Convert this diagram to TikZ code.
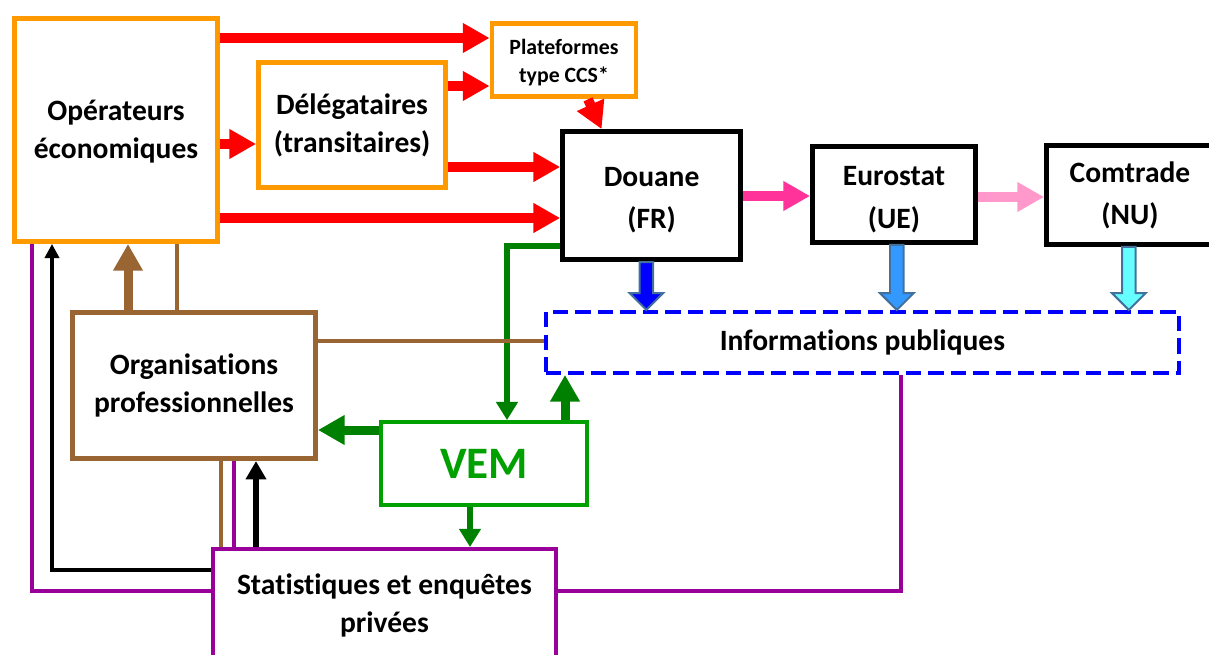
\documentclass[tikz,border=0pt]{standalone}
\usepackage{fontspec}
\setmainfont[Ligatures=NoCommon]{Carlito}
\usetikzlibrary{arrows.meta,positioning,calc}
\definecolor{orangebox}{RGB}{255,153,0}
\definecolor{rosevif}{RGB}{255,51,153}
\definecolor{rosepale}{RGB}{255,153,204}
\definecolor{brun}{RGB}{153,102,51}
\definecolor{violet}{RGB}{153,0,153}
\definecolor{vertfl}{RGB}{0,128,0}
\definecolor{vertvem}{RGB}{0,160,0}
\definecolor{bleueur}{RGB}{51,153,255}
\definecolor{cyancom}{RGB}{102,255,255}
\definecolor{bordbleu}{RGB}{65,113,156}

\begin{document}
\begin{tikzpicture}[
                font=\fontsize{21}{27}\selectfont\bfseries,
                box/.style={draw, line width=3.5pt, fill=white, inner sep=0pt, align=center},
                redarr/.style={draw=red, line width=7pt, -{Triangle[length=19pt, width=20pt]}},
                grnbig/.style={draw=vertfl, line width=6.4pt, -{Triangle[length=19pt, width=20pt]}},
                grnarr/.style={draw=vertfl, line width=4.3pt, -{Triangle[length=13pt, width=15pt]}},
                brnbig/.style={draw=brun, line width=6.4pt, -{Triangle[length=19pt, width=20pt]}},
                brnline/.style={draw=brun, line width=2.3pt},
                purline/.style={draw=violet, line width=2.3pt},
                noirfin/.style={draw=black, line width=2.8pt, -{Triangle[length=10pt, width=10pt]}},
                noirarr/.style={draw=black, line width=4.3pt, -{Triangle[length=13pt, width=14pt]}},
                pubarr/.style={draw=bordbleu, line width=1.4pt, line join=miter},
            ]
            \useasboundingbox (0,0) rectangle (30.225,-16.375);
            % --- acteurs et organismes ---
            \node[box, draw=orangebox, minimum width=5.075cm, minimum height=5.575cm] (ope) at (2.9, -3.25) {\rule{0pt}{17pt}Opérateurs\\économiques};
            \node[box, draw=orangebox, minimum width=4.675cm, minimum height=3.125cm] (del) at (8.8, -3.125) {Délégataires\\(transitaires)};
            \node[box, draw=orangebox, minimum width=3.6cm, minimum height=1.825cm, font=\fontsize{15.5}{20}\selectfont\bfseries] (pla) at (14.1, -1.51) {\rule{0pt}{14pt}Plateformes\\type CCS*};
            \node[box, minimum width=4.45cm, minimum height=3.2cm] (dou) at (16.29, -4.89) {\rule{0pt}{20pt}Douane\\[3pt](FR)};
            \node[box, minimum width=4.075cm, minimum height=2.4cm] (eur) at (22.35, -4.86) {\rule{0pt}{21pt}Eurostat\\[3pt](UE)};
            \node[box, minimum width=4.175cm, minimum height=2.475cm] (com) at (28.25, -4.875) {Comtrade\\[3pt](NU)};
            \node[box, draw=blue, line width=2.8pt, dash pattern=on 11pt off 5pt, minimum width=15.825cm, minimum height=1.525cm] (info) at (21.56, -8.56) {Informations publiques};
            \node[box, draw=brun, minimum width=6.075cm, minimum height=3.65cm] (org) at (4.85, -9.64) {Organisations\\professionnelles};
            \node[box, draw=vertvem, line width=2.8pt, minimum width=5.15cm, minimum height=2.075cm, text=vertvem, font=\fontsize{32}{36}\selectfont\bfseries] (vem) at (12.1, -11.59) {VEM};
            \node[box, draw=violet, line width=2.8pt, minimum width=8.575cm, minimum height=2.8cm] (sta) at (9.61, -15.125) {Statistiques et enquêtes\\privées};
            % --- flux vers la douane ---
            \draw[redarr] (ope.east |- 0,-0.95) -- (pla.west |- 0,-0.95);
            \draw[redarr] (ope.east |- 0,-3.6) -- (del.west |- 0,-3.6);
            \draw[redarr] (ope.east |- 0,-5.45) -- (dou.west |- 0,-5.45);
            \draw[redarr] (del.east |- 0,-2.15) -- (pla.west |- 0,-2.15);
            \draw[redarr] (del.east |- 0,-4.175) -- (dou.west |- 0,-4.175);
            \draw[redarr] ([xshift=0.6cm]pla.south) -- ([xshift=-1.25cm]dou.north);
            \draw[redarr, draw=rosevif] (dou.east |- 0,-4.9) -- (eur.west |- 0,-4.9);
            \draw[redarr, draw=rosepale] (eur.east |- 0,-4.925) -- (com.west |- 0,-4.925);
            % --- diffusion publique ---
            \foreach \n/\c/\dx in {dou/blue/-0.13, eur/bleueur/0.07, com/cyancom/-0.03}
              \draw[pubarr, fill=\c] ($(\n.south)+(\dx-0.17,0)$) |- ($(info.north -| \n.south)+(\dx-0.42,0.42)$) -- ($(info.north -| \n.south)+(\dx,0)$) -- ++(0.42,0.42) -- ++(-0.25,0) |- ($(\n.south)+(\dx+0.17,0)$) -- cycle;
            % --- VEM ---
            \draw[grnarr] (dou.west |- 0,-6.15) -| ([xshift=0.575cm]vem.north);
            \draw[grnbig] (vem.north -| 14.125,0) -- (info.south -| 14.125,0);
            \draw[grnbig] (vem.west |- 0,-10.75) -- (org.east |- 0,-10.75);
            \draw[grnarr] ([xshift=-0.35cm]vem.south) -- ([xshift=-0.35cm]vem.south |- sta.north);
            % --- organisations professionnelles ---
            \draw[brnbig] (org.north -| 3.2,0) -- (ope.south -| 3.2,0);
            \draw[brnline] (org.north -| 4.425,0) -- (ope.south -| 4.425,0);
            \draw[brnline] (org.east |- 0,-8.525) -- (info.west |- 0,-8.525);
            \draw[brnline] (sta.north -| 5.525,0) -- (org.south -| 5.525,0);
            % --- statistiques privées ---
            \draw[purline] (info.south -| 22.525,0) |- (sta.east |- 0,-14.775);
            \draw[purline] (sta.west |- 0,-14.775) -| (ope.south -| 0.8,0);
            \draw[purline] (sta.north -| 5.85,0) -- (org.south -| 5.85,0);
            \draw[noirfin] (sta.west |- 0,-14.25) -| (ope.south -| 1.3,0);
            \draw[noirarr] (sta.north -| 6.4,0) -- (org.south -| 6.4,0);
        \end{tikzpicture}
\end{document}
